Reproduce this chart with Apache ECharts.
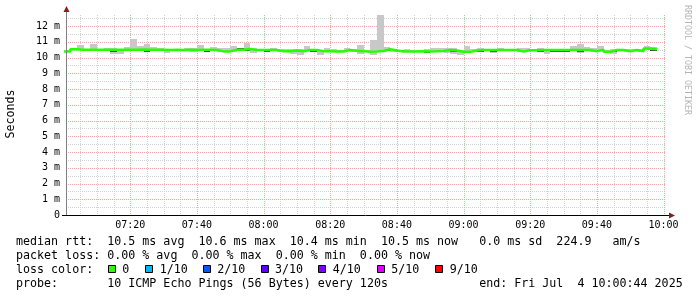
<!DOCTYPE html>
<html><head><meta charset="utf-8">
<script src="https://cdn.jsdelivr.net/npm/echarts@6/dist/echarts.min.js"></script>
<style>html,body{margin:0;padding:0;background:#fff}#c{width:697px;height:297px}</style>
</head><body><div id="c"></div>
<script>
// ---- data ----
const viewStartMin = 44 / 60;          // 07:00:44, minutes after 07:00
const viewEndMin = 180 + 44 / 60;      // 10:00:44
const stepMin = 2;                     // one sample every 120 s
const xTickLabels = ['07:20','07:40','08:00','08:20','08:40','09:00','09:20','09:40','10:00'];
const yTickValues = [0,1,2,3,4,5,6,7,8,9,10,11,12];
const yTickLabels = ['0','1 m','2 m','3 m','4 m','5 m','6 m','7 m','8 m','9 m','10 m','11 m','12 m'];
const yMaxMs = 12.7;
const medianMs = [10.38,10.52,10.50,10.49,10.50,10.49,10.50,10.49,10.49,10.50,
  10.50,10.51,10.49,10.50,10.50,10.48,10.49,10.48,10.49,10.48,
  10.50,10.49,10.48,10.39,10.39,10.50,10.50,10.54,10.48,10.48,
  10.48,10.48,10.40,10.40,10.44,10.40,10.48,10.48,10.40,10.40,
  10.38,10.38,10.48,10.43,10.40,10.37,10.38,10.41,10.53,10.45,
  10.38,10.38,10.39,10.40,10.39,10.40,10.42,10.48,10.44,10.37,
  10.36,10.45,10.48,10.48,10.48,10.48,10.48,10.48,10.38,10.46,
  10.46,10.48,10.47,10.48,10.48,10.48,10.48,10.48,10.48,10.40,
  10.50,10.36,10.48,10.48,10.40,10.48,10.40,10.57,10.52];
const smokeLoMs = [10.34,10.46,10.45,10.43,10.45,10.44,10.45,10.24,10.24,10.44,
  10.45,10.45,10.40,10.45,10.44,10.30,10.44,10.42,10.44,10.32,
  10.44,10.40,10.42,10.35,10.35,10.35,10.44,10.40,10.30,10.43,
  10.38,10.43,10.36,10.36,10.22,10.18,10.42,10.37,10.18,10.36,
  10.34,10.34,10.42,10.38,10.22,10.33,10.18,10.36,10.40,10.35,
  10.34,10.34,10.34,10.35,10.33,10.35,10.38,10.30,10.22,10.16,
  10.31,10.40,10.40,10.43,10.30,10.43,10.43,10.43,10.34,10.41,
  10.41,10.38,10.22,10.38,10.38,10.38,10.43,10.30,10.43,10.36,
  10.44,10.32,10.22,10.43,10.36,10.43,10.36,10.48,10.45];
const smokeHiMs = [10.47,10.57,10.79,10.55,10.86,10.56,10.62,10.62,10.55,10.69,
  11.17,10.73,10.86,10.69,10.62,10.55,10.54,10.57,10.62,10.62,
  10.79,10.55,10.67,10.60,10.60,10.73,10.60,10.92,10.58,10.54,
  10.54,10.58,10.56,10.56,10.56,10.56,10.73,10.54,10.50,10.60,
  10.56,10.50,10.60,10.56,10.81,10.48,11.13,12.70,10.67,10.54,
  10.50,10.56,10.50,10.50,10.55,10.58,10.58,10.58,10.58,10.50,
  10.73,10.55,10.58,10.54,10.54,10.60,10.54,10.54,10.58,10.58,
  10.54,10.60,10.54,10.54,10.54,10.54,10.73,10.86,10.64,10.58,
  10.73,10.50,10.54,10.54,10.52,10.54,10.52,10.73,10.64];
const darkIdx = [1,3,5,7,12,17,21,26,27,30,32,33,37,48,50,54,58,60,62,64,71,73,74,75,77,82,88];
const darkLoMs = [10.53,10.43,10.43,10.36,10.39,10.42,10.38,10.53,10.40,10.38,10.45,10.45,10.36,10.40,10.44,10.31,10.34,10.31,10.40,10.38,10.38,10.38,10.38,10.38,10.38,10.36,10.44];
const darkHiMs = [10.57,10.47,10.47,10.44,10.44,10.46,10.44,10.58,10.48,10.44,10.50,10.50,10.42,10.46,10.48,10.35,10.40,10.34,10.44,10.44,10.44,10.44,10.44,10.44,10.44,10.44,10.48];
const lossLegend = ['0','1/10','2/10','3/10','4/10','5/10','9/10'];
const lossColors = ['#26ff00','#00b8ff','#0059ff','#5e00ff','#7e00ff','#dd00ff','#ff0000'];
const textLines = [
  'median rtt:  10.5 ms avg  10.6 ms max  10.4 ms min  10.5 ms now   0.0 ms sd  224.9   am/s',
  'packet loss: 0.00 % avg  0.00 % max  0.00 % min  0.00 % now',
  'probe:       10 ICMP Echo Pings (56 Bytes) every 120s             end: Fri Jul  4 10:00:44 2025'
];

// ---- derived ----
const toMin = s => { const p = s.split(':'); return (+p[0] - 7) * 60 + (+p[1]); };
const majorX = xTickLabels.map(toMin);
const minorX = [];
for (let m = 5; m <= 180; m += 5) if (majorX.indexOf(m) < 0) minorX.push(m);
const majorY = yTickValues.filter(v => v > 0);
const minorY = yTickValues.map(v => v + 0.5).filter(v => v < yMaxMs);
const smokeData = medianMs.map((_, k) => [k * stepMin, (k + 1) * stepMin, smokeLoMs[k], smokeHiMs[k]]);
const darkData = darkIdx.map((k, i) => [k * stepMin, (k + 1) * stepMin, darkLoMs[i], darkHiMs[i]]);
const medData = medianMs.map((v, k) => [k * stepMin, v]);
medData.push([medianMs.length * stepMin, medianMs[medianMs.length - 1]]);

const MONO = '"DejaVu Sans Mono", monospace';
const MINOR_C = '#d2d2d2', MAJOR_C = '#eaa8a8';

function vGrid(color) {
  return function (params, api) {
    const cs = params.coordSys;
    const x = Math.round(api.coord([api.value(0), 0])[0]) + 0.5;
    return { type: 'line', silent: true,
      shape: { x1: x, y1: cs.y, x2: x, y2: cs.y + cs.height },
      style: { stroke: color, lineWidth: 1, lineDash: [1, 1] } };
  };
}
function hGrid(color) {
  return function (params, api) {
    const cs = params.coordSys;
    const y = Math.round(api.coord([viewStartMin, api.value(0)])[1]) + 0.5;
    return { type: 'line', silent: true,
      shape: { x1: cs.x, y1: y, x2: cs.x + cs.width, y2: y },
      style: { stroke: color, lineWidth: 1, lineDash: [1, 1] } };
  };
}
function band(color) {
  return function (params, api) {
    const p0 = api.coord([api.value(0), api.value(3)]);
    const p1 = api.coord([api.value(1), api.value(2)]);
    const x0 = Math.round(p0[0]), x1 = Math.round(p1[0]);
    const y0 = Math.round(p0[1]), y1 = Math.round(p1[1]);
    return { type: 'rect', silent: true,
      shape: { x: x0, y: y0, width: x1 - x0, height: Math.max(1, y1 - y0) },
      style: { fill: color } };
  };
}

const chart = echarts.init(document.getElementById('c'), null, { renderer: 'canvas' });

const graphics = [
  { type: 'line', shape: { x1: 66.5, y1: 215, x2: 66.5, y2: 11 }, style: { stroke: '#808080', lineWidth: 1 }, z: 50 },
  { type: 'polygon', shape: { points: [[66.5, 6], [63.5, 12], [69.5, 12]] }, style: { fill: '#8c1c1c' }, z: 50 },
  { type: 'line', shape: { x1: 62, y1: 215.5, x2: 669, y2: 215.5 }, style: { stroke: '#000', lineWidth: 1 }, z: 50 },
  { type: 'polygon', shape: { points: [[675, 215.5], [669, 212.5], [669, 218.5]] }, style: { fill: '#8c1c1c' }, z: 50 },
  { type: 'text', x: 11, y: 114, rotation: Math.PI / 2,
    style: { text: 'Seconds', font: '11.6px ' + MONO, fill: '#000', align: 'center', verticalAlign: 'middle' } },
  { type: 'text', x: 687, y: 60, rotation: -Math.PI / 2,
    style: { text: 'RRDTOOL / TOBI OETIKER', font: '8.3px ' + MONO, fill: '#b4b4b4', align: 'center', verticalAlign: 'middle' } },
  { type: 'text', x: 16, y: 241.5, style: { text: textLines[0], font: '11.66px ' + MONO, fill: '#000', verticalAlign: 'middle' } },
  { type: 'text', x: 16, y: 255.5, style: { text: textLines[1], font: '11.66px ' + MONO, fill: '#000', verticalAlign: 'middle' } },
  { type: 'text', x: 16, y: 269.5, style: { text: 'loss color:', font: '11.66px ' + MONO, fill: '#000', verticalAlign: 'middle' } },
  { type: 'text', x: 16, y: 283.5, style: { text: textLines[2], font: '11.66px ' + MONO, fill: '#000', verticalAlign: 'middle' } }
];
const legendLabelX = [122.3, 159.7, 217.3, 275, 332.7, 391.3, 449.7];
lossLegend.forEach((lab, i) => {
  const lx = legendLabelX[i];
  graphics.push({ type: 'rect', shape: { x: Math.round(lx - 14.5) + 0.5, y: 265.5, width: 7, height: 7 },
    style: { fill: lossColors[i], stroke: '#000', lineWidth: 1 } });
  graphics.push({ type: 'text', x: lx, y: 269.5,
    style: { text: lab, font: '11.66px ' + MONO, fill: '#000', verticalAlign: 'middle' } });
});

chart.setOption({
  animation: false,
  backgroundColor: '#ffffff',
  grid: { left: 66, top: 15, width: 600, height: 200, containLabel: false, outerBoundsMode: 'none' },
  xAxis: {
    type: 'value', min: viewStartMin, max: viewEndMin,
    axisLine: { show: false }, axisTick: { show: false }, splitLine: { show: false },
    axisLabel: {
      customValues: majorX, margin: 5,
      formatter: v => { const i = majorX.indexOf(Math.round(v)); return i >= 0 ? xTickLabels[i] : ''; },
      fontFamily: MONO, fontSize: 10, color: '#000'
    }
  },
  yAxis: {
    type: 'value', min: 0, max: yMaxMs,
    axisLine: { show: false }, axisTick: { show: false }, splitLine: { show: false },
    axisLabel: {
      customValues: yTickValues, margin: 6,
      formatter: v => { const i = yTickValues.indexOf(Math.round(v)); return i >= 0 ? yTickLabels[i] : ''; },
      fontFamily: MONO, fontSize: 10, color: '#000'
    }
  },
  graphic: graphics,
  series: [
    { type: 'custom', name: 'minorX', data: minorX.map(v => [v]), renderItem: vGrid(MINOR_C), z: 1, silent: true },
    { type: 'custom', name: 'minorY', data: minorY.map(v => [v]), renderItem: hGrid(MINOR_C), z: 1, silent: true },
    { type: 'custom', name: 'majorX', data: majorX.map(v => [v]), renderItem: vGrid(MAJOR_C), z: 2, silent: true },
    { type: 'custom', name: 'majorY', data: majorY.map(v => [v]), renderItem: hGrid(MAJOR_C), z: 2, silent: true },
    { type: 'custom', name: 'smoke', data: smokeData, renderItem: band('#c8c8c8'), clip: true, z: 3, silent: true },
    { type: 'custom', name: 'smokeCore', data: darkData, renderItem: band('#474747'), clip: true, z: 4, silent: true },
    { type: 'line', name: 'median', data: medData, step: 'end', showSymbol: false, symbol: 'none',
      lineStyle: { color: '#26ff00', width: 2.5 }, clip: true, z: 5, silent: true }
  ]
});
</script>
</body></html>
